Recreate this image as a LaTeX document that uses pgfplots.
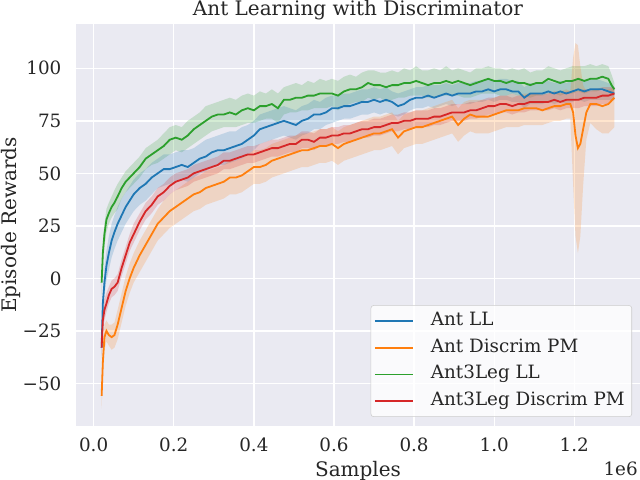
\documentclass[border=0pt]{standalone}
\usepackage{pgfplots}
\pgfplotsset{compat=1.18}
\usepackage{pgfplotstable}
\usepgfplotslibrary{fillbetween}
\usepackage{fontspec}
\setmainfont{DejaVu Serif}
\definecolor{tabblue}{HTML}{1F77B4}
\definecolor{taborange}{HTML}{FF7F0E}
\definecolor{tabgreen}{HTML}{2CA02C}
\definecolor{tabred}{HTML}{D62728}
\definecolor{bg}{HTML}{EAEAF2}
\definecolor{txt}{HTML}{262626}

\pgfplotstableread{
x m lo hi
0.020 -2 -9 3
0.023 12 6 17
0.027 21 15 26
0.032 28 22 33
0.038 31 26 36
0.045 34 29 39
0.052 36 31 42
0.060 39 33 45
0.070 43 38 48
0.080 46 41 51
0.090 48 43 53
0.100 50 45 55
0.115 53 48 58
0.130 57 52 62
0.145 59 54 64
0.160 61 55 66
0.175 63 57 69
0.190 66 59 72
0.205 67 61 73
0.220 66 60 72
0.235 68 62 75
0.250 71 64 77
0.265 73 66 79
0.280 75 68 82
0.295 77 70 83
0.310 78 71 84
0.325 78 72 85
0.340 79 72 86
0.355 78 72 85
0.370 80 73 87
0.385 81 74 88
0.400 80 74 87
0.415 82 75 89
0.430 82 76 88
0.445 83 76 90
0.460 81 74 88
0.475 85 78 91
0.490 85 79 92
0.505 86 79 93
0.520 86 80 92
0.535 87 80 94
0.550 87 81 93
0.565 88 81 95
0.580 88 81 94
0.595 88 82 95
0.610 87 80 94
0.625 89 82 96
0.640 90 83 97
0.655 90 84 96
0.670 91 84 98
0.685 93 86 99
0.700 92 85 99
0.715 92 86 98
0.730 91 84 98
0.745 92 85 99
0.760 92 86 98
0.775 93 86 100
0.790 93 87 99
0.805 94 87 101
0.820 93 87 99
0.835 92 86 99
0.850 93 86 100
0.865 93 87 99
0.880 94 87 101
0.895 93 87 99
0.910 94 87 100
0.925 93 86 99
0.940 92 86 98
0.955 93 87 100
0.970 94 88 100
0.985 95 88 101
1.000 94 88 100
1.015 94 87 100
1.030 93 87 99
1.045 94 88 100
1.060 93 87 99
1.075 93 87 100
1.090 92 86 98
1.105 93 87 99
1.120 93 87 99
1.135 95 88 101
1.150 94 88 100
1.165 93 87 99
1.180 94 88 100
1.195 94 88 101
1.210 95 89 101
1.225 94 88 101
1.240 95 89 102
1.255 95 89 101
1.270 96 90 102
1.285 95 89 101
1.293 92 87 97
1.300 90 87 93
}\greentab

\pgfplotstableread{
x m lo hi
0.020 -33 -38 -28
0.023 -12 -18 -6
0.027 -2 -8 5
0.032 6 -1 13
0.038 12 4 20
0.045 18 10 26
0.052 22 14 30
0.060 26 18 34
0.070 30 22 38
0.080 34 26 41
0.090 37 29 44
0.100 40 32 47
0.115 43 35 50
0.130 45 37 52
0.145 48 40 55
0.160 50 43 57
0.175 52 44 59
0.190 52 45 59
0.205 53 46 60
0.220 54 47 61
0.235 53 46 61
0.250 55 48 62
0.265 57 50 64
0.280 58 51 66
0.295 60 53 67
0.310 61 54 68
0.325 61 54 69
0.340 62 55 70
0.355 63 56 70
0.370 64 57 72
0.385 66 59 73
0.400 68 61 75
0.415 71 64 78
0.430 72 65 79
0.445 73 66 80
0.460 74 67 81
0.475 75 68 82
0.490 74 67 81
0.505 73 66 80
0.520 75 68 82
0.535 76 69 83
0.550 78 71 85
0.565 78 71 84
0.580 79 73 86
0.595 81 74 87
0.610 81 75 87
0.625 82 76 88
0.640 82 76 88
0.655 83 77 89
0.670 84 78 90
0.685 84 78 90
0.700 85 79 91
0.715 84 78 90
0.730 85 79 91
0.745 84 78 89
0.760 82 77 88
0.775 83 78 89
0.790 85 80 90
0.805 86 81 91
0.820 86 81 91
0.835 87 82 92
0.850 86 81 92
0.865 87 82 92
0.880 88 83 93
0.895 87 82 92
0.910 88 83 93
0.925 88 83 93
0.940 88 83 93
0.955 89 84 94
0.970 89 84 94
0.985 90 85 95
1.000 89 84 94
1.015 90 85 95
1.030 90 85 95
1.045 89 84 94
1.060 89 84 94
1.075 86 81 91
1.090 88 83 93
1.105 88 83 93
1.120 88 83 93
1.135 89 84 94
1.150 88 83 93
1.165 89 84 94
1.180 88 83 93
1.195 89 84 94
1.210 90 85 95
1.225 89 84 94
1.240 90 85 95
1.255 90 85 95
1.270 90 85 94
1.285 89 85 93
1.300 88 85 91
}\bluetab

\pgfplotstableread{
x m lo hi
0.020 -33 -38 -28
0.023 -20 -25 -15
0.027 -15 -20 -10
0.032 -12 -16 -7
0.038 -8 -12 -4
0.045 -5 -9 -1
0.052 -4 -8 0
0.060 -2 -6 2
0.070 5 1 9
0.080 11 7 15
0.090 17 13 21
0.100 21 17 26
0.115 27 23 31
0.130 32 28 36
0.145 35 31 39
0.160 39 35 43
0.175 41 37 45
0.190 44 40 48
0.205 46 42 50
0.220 47 43 51
0.235 48 44 52
0.250 50 46 54
0.265 51 47 55
0.280 52 48 56
0.295 53 49 57
0.310 54 50 58
0.325 56 52 60
0.340 56 52 60
0.355 57 53 61
0.370 58 54 62
0.385 59 55 63
0.400 59 55 63
0.415 60 56 64
0.430 61 57 65
0.445 62 58 66
0.460 62 58 66
0.475 63 59 67
0.490 64 60 68
0.505 64 60 68
0.520 66 62 70
0.535 66 62 70
0.550 65 61 69
0.565 67 63 71
0.580 67 63 71
0.595 68 64 72
0.610 68 64 72
0.625 69 65 73
0.640 69 65 73
0.655 70 66 74
0.670 71 67 75
0.685 71 67 75
0.700 72 68 76
0.715 72 68 76
0.730 73 69 77
0.745 74 70 78
0.760 74 70 78
0.775 75 71 79
0.790 75 71 79
0.805 76 72 80
0.820 76 72 80
0.835 76 72 80
0.850 77 73 81
0.865 77 73 81
0.880 78 74 82
0.895 79 75 83
0.910 79 75 83
0.925 79 75 83
0.940 80 76 84
0.955 80 76 84
0.970 81 77 85
0.985 82 78 86
1.000 82 78 86
1.015 83 79 87
1.030 83 79 87
1.045 82 78 86
1.060 83 79 87
1.075 83 79 87
1.090 84 80 88
1.105 84 80 88
1.120 84 80 88
1.135 84 80 88
1.150 85 81 89
1.165 84 80 88
1.180 85 81 89
1.195 85 81 89
1.210 85 81 89
1.225 86 82 90
1.240 86 82 90
1.255 86 82 90
1.270 87 83 91
1.285 87 83 91
1.300 88 85 91
}\redtab

\pgfplotstableread{
x m lo hi
0.020 -56 -62 -50
0.023 -40 -47 -33
0.027 -28 -34 -22
0.032 -25 -30 -20
0.038 -27 -32 -22
0.045 -28 -34 -22
0.052 -27 -33 -21
0.060 -22 -29 -15
0.070 -14 -21 -7
0.080 -6 -13 1
0.090 0 -7 7
0.100 5 -2 12
0.115 11 3 18
0.130 16 8 23
0.145 21 13 28
0.160 26 18 33
0.175 29 21 37
0.190 32 24 40
0.205 34 26 42
0.220 36 28 44
0.235 38 30 46
0.250 40 32 48
0.265 41 33 49
0.280 43 35 51
0.295 44 36 52
0.310 45 37 53
0.325 46 38 54
0.340 48 40 56
0.355 48 40 56
0.370 49 41 57
0.385 51 43 59
0.400 53 45 61
0.415 53 45 61
0.430 54 46 62
0.445 56 48 64
0.460 57 49 65
0.475 58 50 66
0.490 59 51 67
0.505 60 52 68
0.520 61 53 69
0.535 61 53 69
0.550 62 54 70
0.565 63 55 71
0.580 63 55 71
0.595 64 56 72
0.610 62 54 70
0.625 64 56 72
0.640 65 57 73
0.655 66 58 74
0.670 67 59 75
0.685 68 60 76
0.700 69 61 77
0.715 69 61 77
0.730 70 62 78
0.745 71 63 79
0.760 67 59 75
0.775 70 62 78
0.790 71 63 79
0.805 72 64 80
0.820 72 64 80
0.835 73 65 81
0.850 74 66 82
0.865 75 67 83
0.880 76 68 84
0.895 77 69 85
0.910 73 65 81
0.925 76 68 84
0.940 78 70 85
0.955 77 69 85
0.970 77 69 85
0.985 77 69 85
1.000 78 70 86
1.015 79 71 87
1.030 80 72 87
1.045 80 72 88
1.060 80 72 87
1.075 81 73 88
1.090 81 73 88
1.105 81 73 88
1.120 80 73 87
1.135 81 74 88
1.150 82 75 89
1.165 82 75 89
1.180 83 76 90
1.190 83 76 89
1.197 79 45 105
1.203 68 20 112
1.209 62 12 111
1.215 64 20 101
1.222 71 44 92
1.230 79 66 89
1.240 83 74 89
1.255 83 71 90
1.270 82 69 89
1.285 83 69 90
1.300 86 72 91
}\orangetab

\begin{document}
\begin{tikzpicture}
\begin{axis}[
  scale only axis,
  width=406.08pt, height=289.44pt,
  xmin=-0.044, xmax=1.364, ymin=-70.3, ymax=121.1,
  axis background/.style={fill=bg},
  axis line style={draw=none},
  major tick length=0pt,
  grid=major,
  grid style={white, line width=1pt},
  xtick={0,0.2,0.4,0.6,0.8,1.0,1.2},
  xticklabels={0.0,0.2,0.4,0.6,0.8,1.0,1.2},
  ytick={-50,-25,0,25,50,75,100},
  yticklabels={−50,−25,0,25,50,75,100},
  /pgf/number format/assume math mode=true,
  tick label style={font=\fontsize{13.2}{15}\selectfont, text=txt, inner sep=0pt},
  xticklabel style={anchor=base, yshift=-18.5pt},
  yticklabel style={anchor=east, xshift=-10.3pt},
  xlabel={Samples},
  ylabel={Episode Rewards},
  label style={font=\fontsize{14.4}{16}\selectfont, text=txt, inner sep=0pt},
  xlabel style={at={(axis description cs:0.5,0)}, anchor=base, yshift=-36.4pt},
  ylabel style={at={(axis description cs:0,0.5)}, anchor=base, yshift=43pt},
  title={Ant Learning with Discriminator},
  every axis title shift=0pt,
  title style={font=\fontsize{14.4}{16}\selectfont, text=txt, inner sep=0pt, at={(axis description cs:0.5,1)}, anchor=base, yshift=6.1pt},
  legend cell align=left,
  legend image code/.code={\draw[#1, line width=1.3pt] (0pt,0pt) -- (27.4pt,0pt);},
  legend style={at={(axis description cs:1,0)}, anchor=south east, xshift=-5.76pt, yshift=6.48pt,
    fill=white, fill opacity=0.8, text opacity=1, draw=black!20, rounded corners=2pt,
    font=\fontsize{13.2}{15}\selectfont, text=txt,
    inner xsep=2.2pt, inner ysep=5pt, row sep=6.7pt,
    nodes={inner sep=0pt, text height=9.5pt, text depth=3pt},
    /tikz/every odd column/.append style={column sep=12.3pt}},
]
% bands
\addplot[name path=ghi, draw=none, forget plot] table[x=x, y=hi]{\greentab};
\addplot[name path=glo, draw=none, forget plot] table[x=x, y=lo]{\greentab};
\addplot[tabgreen, fill opacity=0.2, draw=none, forget plot] fill between[of=ghi and glo];
\addplot[name path=bhi, draw=none, forget plot] table[x=x, y=hi]{\bluetab};
\addplot[name path=blo, draw=none, forget plot] table[x=x, y=lo]{\bluetab};
\addplot[tabblue, fill opacity=0.2, draw=none, forget plot] fill between[of=bhi and blo];
\addplot[name path=ohi, draw=none, forget plot] table[x=x, y=hi]{\orangetab};
\addplot[name path=olo, draw=none, forget plot] table[x=x, y=lo]{\orangetab};
\addplot[taborange, fill opacity=0.2, draw=none, forget plot] fill between[of=ohi and olo];
\addplot[name path=rhi, draw=none, forget plot] table[x=x, y=hi]{\redtab};
\addplot[name path=rlo, draw=none, forget plot] table[x=x, y=lo]{\redtab};
\addplot[tabred, fill opacity=0.2, draw=none, forget plot] fill between[of=rhi and rlo];
% means
\addplot[tabblue, line width=1.3pt] table[x=x, y=m]{\bluetab};
\addlegendentry{Ant LL}
\addplot[taborange, line width=1.3pt] table[x=x, y=m]{\orangetab};
\addlegendentry{Ant Discrim PM}
\addplot[tabgreen, line width=1.3pt] table[x=x, y=m]{\greentab};
\addlegendentry{Ant3Leg LL}
\addplot[tabred, line width=1.3pt] table[x=x, y=m]{\redtab};
\addlegendentry{Ant3Leg Discrim PM\hspace*{2.8pt}}
\end{axis}
\node[anchor=base east, font=\fontsize{13.2}{15}\selectfont, text=txt, inner sep=0pt] at ([xshift=-1.44pt, yshift=-35.3pt]current axis.south east) {1e6};
\pgfresetboundingbox
\path[use as bounding box] ([xshift=-54.72pt, yshift=-38.88pt]current axis.south west) rectangle ([yshift=17.28pt]current axis.north east);
\end{tikzpicture}
\end{document}
